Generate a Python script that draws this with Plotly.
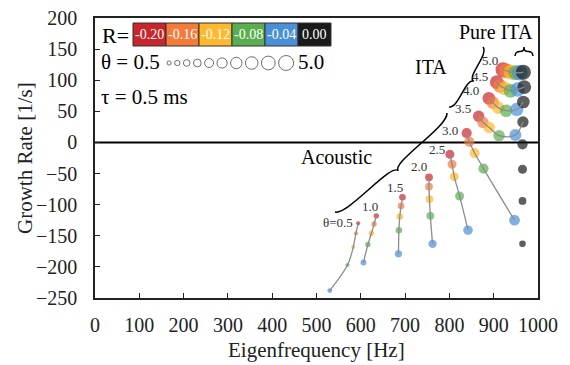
import math
import plotly.graph_objects as go

# ---------------- data ----------------
theta = [0.5, 1.0, 1.5, 2.0, 2.5, 3.0, 3.5, 4.0, 4.5, 5.0]
theta_labels = ["θ=0.5", "1.0", "1.5", "2.0", "2.5", "3.0", "3.5", "4.0", "4.5", "5.0"]
R_values = [-0.20, -0.16, -0.12, -0.08, -0.04, 0.00]
R_labels = ["-0.20", "-0.16", "-0.12", "-0.08", "-0.04", "0.00"]
R_colors = ["#C9252C", "#F47B3A", "#FDB92E", "#5AAE4F", "#4A90D8", "#1A1A1A"]

freq_R020 = [594, 635, 694, 754, 801, 839, 866, 889, 907, 921]
grow_R020 = [-130, -118, -88, -56, -19, 15, 42, 71, 97, 117]
freq_R016 = [589, 630, 691, 754, 806, 845, 876, 898, 914, 929]
grow_R016 = [-146, -131, -102, -71, -35, 1, 32, 64, 91, 115]
freq_R012 = [583, 624, 688, 755, 811, 857, 890, 910, 925, 939]
grow_R012 = [-168, -146, -119, -91, -55, -17, 24, 56, 87, 113]
freq_R008 = [570, 616, 686, 757, 823, 877, 912, 928, 938, 950]
grow_R008 = [-197, -164, -141, -118, -86, -42, 11, 51, 83, 112]
freq_R004 = [530, 606, 685, 762, 842, 947, 949, 952, 954, 959]
grow_R004 = [-238, -193, -179, -163, -141, -125, 12, 53, 85, 112]
freq_R000 = [None, None, 965, 965, 965, 965, 966, 967, 969, 967]
grow_R000 = [None, None, -163, -94, -43, -3, 33, 65, 89, 113]
# curve of each theta reaches the pure-ITA point (R = 0)?
reaches_pure = [False, False, False, False, False, False, True, True, True, True]

freqs = [freq_R020, freq_R016, freq_R012, freq_R008, freq_R004, freq_R000]
grows = [grow_R020, grow_R016, grow_R012, grow_R008, grow_R004, grow_R000]

x_ticks = list(range(0, 1001, 100))
y_ticks = list(range(-250, 201, 50))

# ---------------- layout geometry (window pixels) ----------------
PAGE_OFF = 8            # default body margin of the html page
W, H = 570, 365
ML, MR, MT, MB = 95, 32, 18, 67
PW, PH = W - ML - MR, H - MT - MB
XR = [0, 1000]
YR = [-250, 200]
FONT = "Liberation Serif"


def px_x(px):
    return XR[0] + (px - ML) / PW * (XR[1] - XR[0])


def px_y(py):
    return YR[1] - (py - MT) / PH * (YR[1] - YR[0])


def paper_x(px):
    return (px - ML) / PW


def paper_y(py):
    return (MT + PH - py) / PH


def msize(t):
    return 3 + 2.4 * t


fig = go.Figure()

# markers
for ri in range(len(R_values)):
    xs, ys, ss = [], [], []
    for ti, t in enumerate(theta):
        if freqs[ri][ti] is None:
            continue
        xs.append(freqs[ri][ti])
        ys.append(grows[ri][ti])
        ss.append(msize(t) + (0.6 if ri == 4 else 0))
    fig.add_trace(go.Scatter(
        x=xs, y=ys, mode="markers",
        marker=dict(size=ss, color=R_colors[ri], opacity=0.7, line=dict(width=0)),
        showlegend=False, hoverinfo="skip"))

# connecting curves
for ti, t in enumerate(theta):
    n = 6 if reaches_pure[ti] else 5
    xs = [freqs[ri][ti] for ri in range(n)]
    ys = [grows[ri][ti] for ri in range(n)]
    fig.add_trace(go.Scatter(
        x=xs, y=ys, mode="lines",
        line=dict(color="#8C8C8C", width=1.3, shape="spline", smoothing=1.0),
        showlegend=False, hoverinfo="skip"))

# theta labels next to the R=-0.20 points
label_px = [(338, 222), (370, 206), (395, 187), (419, 166), (437, 149),
            (450, 130), (463, 108), (471, 90), (480, 76), (490, 60)]
annotations = []
for lab, (lx, ly) in zip(theta_labels, label_px):
    annotations.append(dict(x=px_x(lx), y=px_y(ly), text=lab, showarrow=False,
                            font=dict(family=FONT, size=13, color="#333"),
                            xanchor="center", yanchor="middle"))

# legend: theta sizes
lx = 167
gap = 3.4
cx, cy, cs = [], [], []
for t in theta:
    s = msize(t)
    cx.append(px_x(lx + s / 2))
    cy.append(px_y(63))
    cs.append(s)
    lx += s + gap
fig.add_trace(go.Scatter(x=cx, y=cy, mode="markers",
                         marker=dict(size=cs, color="white", line=dict(color="#333", width=1)),
                         showlegend=False, hoverinfo="skip"))

shapes = []
# legend: R colour boxes
bx0, bw, by0, by1 = 133, 33, 23, 46
for i, (lab, col) in enumerate(zip(R_labels, R_colors)):
    x0 = bx0 + i * bw
    shapes.append(dict(type="rect", xref="x", yref="y",
                       x0=px_x(x0), x1=px_x(x0 + bw), y0=px_y(by1), y1=px_y(by0),
                       fillcolor=col, line=dict(color="#333", width=1), layer="above"))
    annotations.append(dict(x=px_x(x0 + bw / 2), y=px_y((by0 + by1) / 2), text=lab,
                            showarrow=False, font=dict(family=FONT, size=14, color="white"),
                            xanchor="center", yanchor="middle"))

annotations += [
    dict(x=px_x(100), y=px_y(35), text="R=", showarrow=False, xanchor="left", yanchor="middle",
         font=dict(family=FONT, size=22, color="black")),
    dict(x=px_x(99), y=px_y(62), text="θ = 0.5", showarrow=False, xanchor="left", yanchor="middle",
         font=dict(family=FONT, size=21, color="black")),
    dict(x=px_x(lx - gap + 2), y=px_y(62), text="5.0", showarrow=False, xanchor="left", yanchor="middle",
         font=dict(family=FONT, size=21, color="black")),
    dict(x=px_x(99), y=px_y(97), text="τ = 0.5 ms", showarrow=False, xanchor="left", yanchor="middle",
         font=dict(family=FONT, size=21, color="black")),
    dict(x=px_x(336), y=px_y(157), text="Acoustic", showarrow=False, xanchor="center", yanchor="middle",
         font=dict(family=FONT, size=20, color="black")),
    dict(x=px_x(431), y=px_y(67), text="ITA", showarrow=False, xanchor="center", yanchor="middle",
         font=dict(family=FONT, size=20, color="black")),
    dict(x=px_x(496), y=px_y(32), text="Pure ITA", showarrow=False, xanchor="center", yanchor="middle",
         font=dict(family=FONT, size=20, color="black")),
    # axis titles
    dict(xref="paper", yref="paper", x=0.5, y=paper_y(350), text="Eigenfrequency [Hz]",
         showarrow=False, xanchor="center", yanchor="middle",
         font=dict(family=FONT, size=21, color="#222")),
    dict(xref="paper", yref="paper", x=paper_x(25), y=0.5, text="Growth Rate [1/s]",
         showarrow=False, textangle=-90, xanchor="center", yanchor="middle",
         font=dict(family=FONT, size=21, color="#222")),
]


def brace(a, b, d, side):
    """Curly brace between pixel points a and b, tip offset d pixels to `side` (+1/-1)."""
    ax, ay = a
    bx, by = b
    L = math.hypot(bx - ax, by - ay)
    ux, uy = (bx - ax) / L, (by - ay) / L
    vx, vy = -uy * side, ux * side

    def P(s, t):
        px = ax + ux * s + vx * t
        py = ay + uy * s + vy * t
        return f"{px_x(px):.3f},{px_y(py):.3f}"

    h = L / 2
    return (f"M {P(0, 0)} C {P(0.05 * L, d)} {P(h, 0)} {P(h, d)} "
            f"C {P(h, 0)} {P(L - 0.05 * L, d)} {P(L, 0)}")


for a, b, d, side in [((335, 212), (447, 113), 11, 1),
                      ((449, 107), (483, 47), 9, 1),
                      ((515, 56), (533, 56), 9, -1)]:
    shapes.append(dict(type="path", xref="x", yref="y", path=brace(a, b, d, side),
                       line=dict(color="black", width=1.5), layer="above"))

# zero line
shapes.append(dict(type="line", xref="x", yref="y", x0=XR[0], x1=XR[1], y0=0, y1=0,
                   line=dict(color="black", width=2), layer="below"))

# the page adds a body margin; shrink figure so the plot lands where intended
fig.update_layout(
    width=W - PAGE_OFF, height=H - PAGE_OFF,
    margin=dict(l=ML - PAGE_OFF, r=MR, t=MT - PAGE_OFF, b=MB, autoexpand=False),
    paper_bgcolor="white", plot_bgcolor="white",
    font=dict(family=FONT, size=20, color="#222"),
    shapes=shapes, annotations=annotations,
    showlegend=False,
)
fig.update_xaxes(range=XR, tickvals=x_ticks, ticks="inside", ticklen=5, tickcolor="#222",
                 showline=True, linecolor="#222", linewidth=1.5, mirror=True, showgrid=False,
                 zeroline=False, automargin=False, ticklabelstandoff=8, ticklabeloverflow="allow",
                 tickfont=dict(family=FONT, size=20, color="#222"))
fig.update_yaxes(range=YR, tickvals=y_ticks, ticks="inside", ticklen=5, tickcolor="#222",
                 showline=True, linecolor="#222", linewidth=1.5, mirror=True, showgrid=False,
                 zeroline=False, automargin=False, ticklabelstandoff=12, ticklabeloverflow="allow",
                 tickfont=dict(family=FONT, size=20, color="#222"))

fig.write_html("out.html")
